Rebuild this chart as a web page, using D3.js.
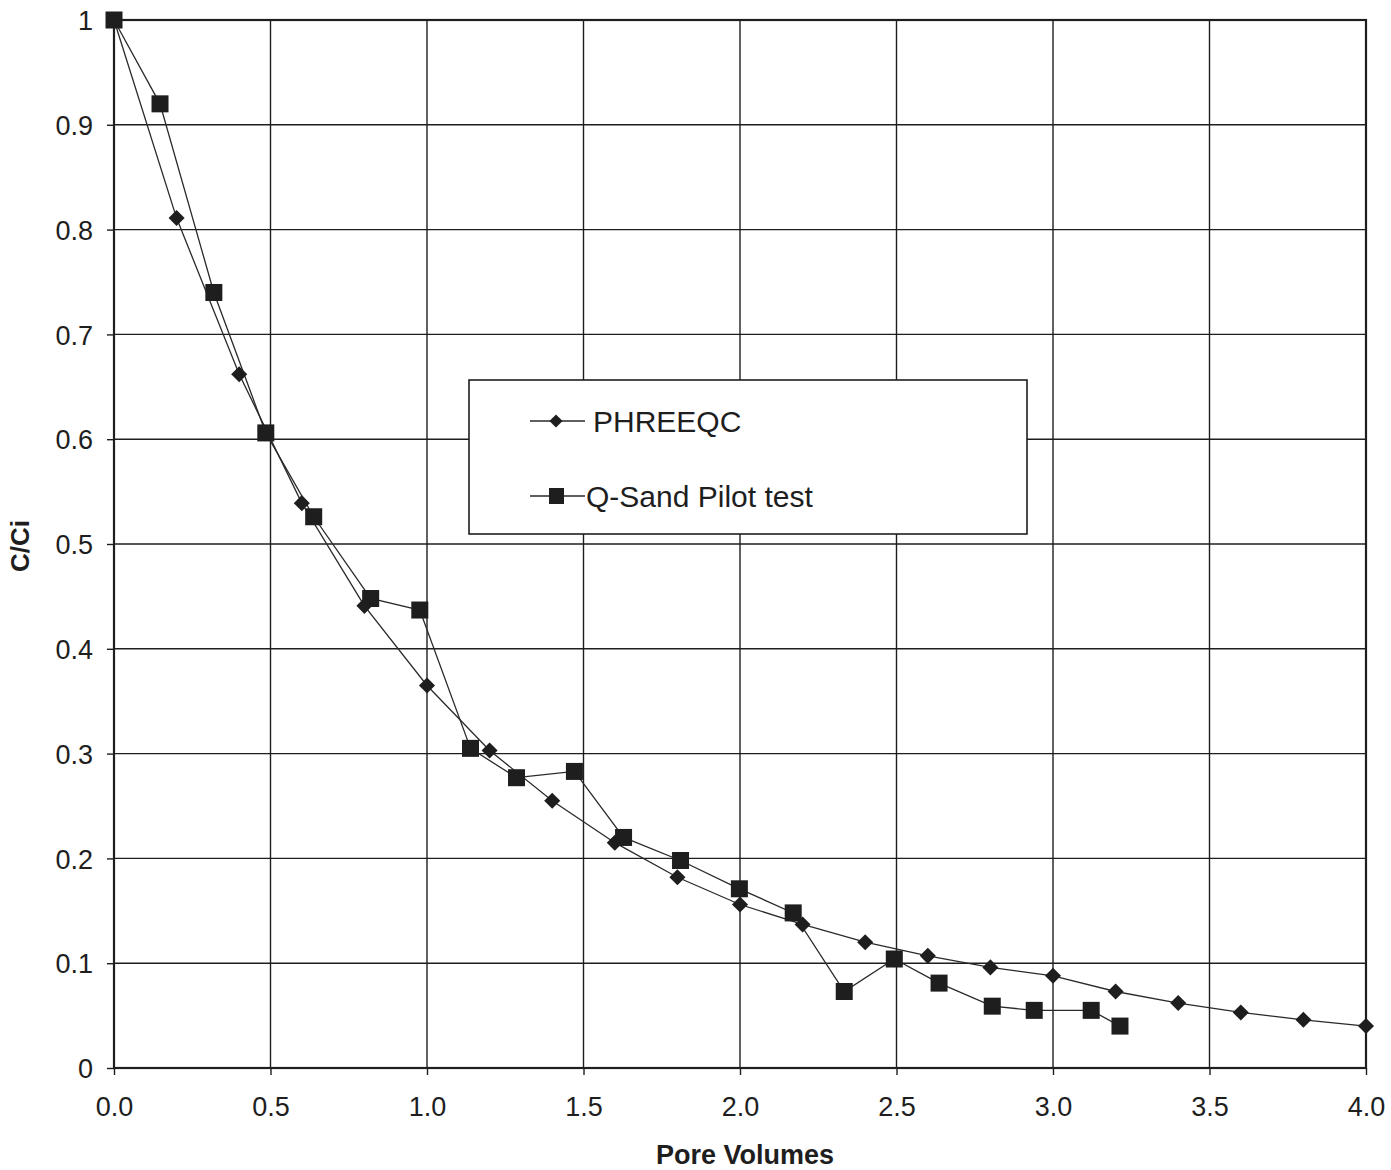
<!DOCTYPE html>
<html><head><meta charset="utf-8">
<script src="https://cdn.jsdelivr.net/npm/d3@7"></script>
<style>
html,body{margin:0;padding:0;background:#fff;}
svg{display:block;font-family:"Liberation Sans",Arial,sans-serif;}
</style></head>
<body>
<svg id="chart" width="1391" height="1170"></svg>
<script>
const phreeqcX = [0, 0.2, 0.4, 0.6, 0.8, 1.0, 1.2, 1.4, 1.6, 1.8, 2.0, 2.2, 2.4, 2.6, 2.8, 3.0, 3.2, 3.4, 3.6, 3.8, 4.0];
const phreeqcY = [1.0, 0.811, 0.662, 0.539, 0.441, 0.365, 0.303, 0.255, 0.215, 0.182, 0.156, 0.137, 0.120, 0.107, 0.096, 0.088, 0.073, 0.062, 0.053, 0.046, 0.040];
const qsandX = [0, 0.147, 0.319, 0.485, 0.638, 0.820, 0.977, 1.139, 1.286, 1.471, 1.628, 1.810, 1.998, 2.170, 2.333, 2.493, 2.636, 2.806, 2.940, 3.122, 3.214];
const qsandY = [1.0, 0.920, 0.740, 0.606, 0.526, 0.448, 0.437, 0.305, 0.277, 0.283, 0.220, 0.198, 0.171, 0.148, 0.073, 0.104, 0.081, 0.059, 0.055, 0.055, 0.040];
const xTicks = [0, 0.5, 1.0, 1.5, 2.0, 2.5, 3.0, 3.5, 4.0];
const yTicks = [0, 0.1, 0.2, 0.3, 0.4, 0.5, 0.6, 0.7, 0.8, 0.9, 1];
const seriesNames = ["PHREEQC", "Q-Sand Pilot test"];
const xTitle = "Pore Volumes";
const yTitle = "C/Ci";

const svg = d3.select("#chart");
const m = {left:114, top:20, right:1366, bottom:1068};
const x = d3.scaleLinear().domain([0,4]).range([m.left, m.right]);
const y = d3.scaleLinear().domain([0,1]).range([m.bottom, m.top]);
const ink = "#1e1e1e";

// grid
const g = svg.append("g");
g.selectAll("line.v").data(xTicks.slice(1,-1)).join("line")
  .attr("x1", d=>x(d)).attr("x2", d=>x(d)).attr("y1", m.top).attr("y2", m.bottom)
  .attr("stroke", ink).attr("stroke-width", 1.4);
g.selectAll("line.h").data(yTicks.slice(1,-1)).join("line")
  .attr("x1", m.left).attr("x2", m.right).attr("y1", d=>y(d)).attr("y2", d=>y(d))
  .attr("stroke", ink).attr("stroke-width", 1.4);

// axes
const xAxis = d3.axisBottom(x).tickValues(xTicks).tickFormat(d3.format(".1f")).tickSize(7).tickPadding(22);
const yAxis = d3.axisLeft(y).tickValues(yTicks).tickFormat(d => d===0||d===1 ? String(d) : d3.format(".1f")(d)).tickSize(7).tickPadding(14);
const gx = svg.append("g").attr("transform", `translate(0,${m.bottom})`).call(xAxis);
const gy = svg.append("g").attr("transform", `translate(${m.left},0)`).call(yAxis);
[gx, gy].forEach(a => {
  a.select(".domain").remove();
  a.selectAll(".tick line").attr("stroke", ink).attr("stroke-width", 1.4);
  a.selectAll(".tick text").attr("fill", ink).attr("font-size", 27).attr("font-family", "Liberation Sans, Arial, sans-serif");
});
gy.selectAll(".tick text").attr("dy", "0.36em");

// frame
svg.append("rect").attr("x", m.left).attr("y", m.top).attr("width", m.right-m.left).attr("height", m.bottom-m.top)
  .attr("fill", "none").attr("stroke", ink).attr("stroke-width", 2.2);

// titles
svg.append("text").attr("x", 745).attr("y", 1164).attr("text-anchor","middle")
  .attr("font-size", 27).attr("font-weight","bold").attr("fill", ink).text(xTitle);
svg.append("text").attr("transform","translate(29,546) rotate(-90)").attr("text-anchor","middle")
  .attr("font-size", 26).attr("font-weight","bold").attr("fill", ink).text(yTitle);

// series
const line = d3.line().x(d=>x(d[0])).y(d=>y(d[1]));
const pData = phreeqcX.map((v,i)=>[v, phreeqcY[i]]);
const qData = qsandX.map((v,i)=>[v, qsandY[i]]);
const diamond = d3.symbol().type(d3.symbolDiamond2).size(165);
const square = 17;

svg.append("path").datum(pData).attr("d", line).attr("fill","none").attr("stroke", "#2a2a2a").attr("stroke-width", 1.3);
svg.append("path").datum(qData).attr("d", line).attr("fill","none").attr("stroke", "#2a2a2a").attr("stroke-width", 1.3);
svg.selectAll("path.dia").data(pData).join("path").attr("class","dia")
  .attr("transform", d=>`translate(${x(d[0])},${y(d[1])})`).attr("d", diamond).attr("fill", ink);
svg.selectAll("rect.sq").data(qData).join("rect").attr("class","sq")
  .attr("x", d=>x(d[0])-square/2).attr("y", d=>y(d[1])-square/2).attr("width", square).attr("height", square).attr("fill", ink);

// legend
const lg = svg.append("g");
lg.append("rect").attr("x", 469).attr("y", 380).attr("width", 558).attr("height", 154)
  .attr("fill", "#fff").attr("stroke", ink).attr("stroke-width", 1.6);
const items = [{name: seriesNames[0], yy: 421, mk: "d", tx: 593}, {name: seriesNames[1], yy: 496, mk: "s", tx: 586}];
items.forEach(it => {
  lg.append("line").attr("x1", 530).attr("x2", 585).attr("y1", it.yy).attr("y2", it.yy).attr("stroke", "#2a2a2a").attr("stroke-width", 1.3);
  if (it.mk === "d") {
    lg.append("path").attr("transform", `translate(556,${it.yy})`).attr("d", d3.symbol().type(d3.symbolDiamond2).size(110)).attr("fill", ink);
  } else {
    lg.append("rect").attr("x", 549).attr("y", it.yy-8).attr("width", 15).attr("height", 16).attr("fill", ink);
  }
  lg.append("text").attr("x", it.tx).attr("y", it.yy).attr("dy", "0.36em").attr("font-size", 30).attr("fill", ink).text(it.name);
});
</script>
</body></html>
